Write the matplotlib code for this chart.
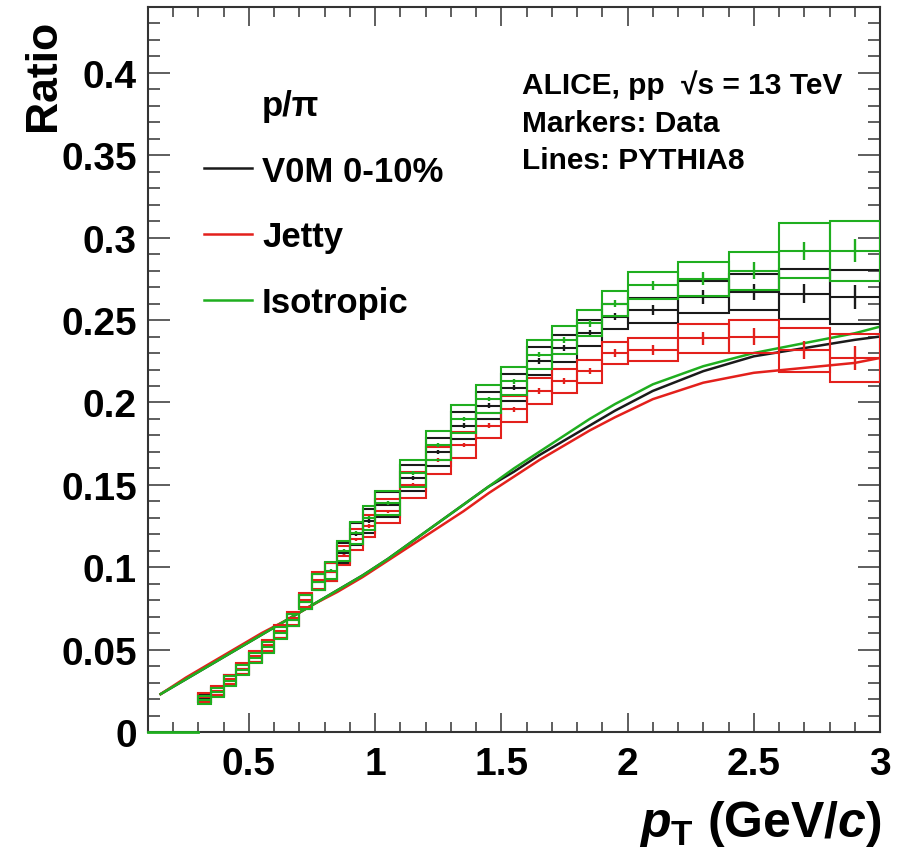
import numpy as np
import matplotlib
matplotlib.use('Agg')
import matplotlib.pyplot as plt
from matplotlib.lines import Line2D
from matplotlib.ticker import MultipleLocator, FuncFormatter

plt.rcParams['font.family'] = ['Liberation Sans', 'DejaVu Sans']
plt.rcParams['font.weight'] = 'bold'
plt.rcParams['mathtext.fontset'] = 'custom'
plt.rcParams['mathtext.rm'] = 'Liberation Sans:bold'
plt.rcParams['mathtext.it'] = 'Liberation Sans:italic:bold'
plt.rcParams['mathtext.bf'] = 'Liberation Sans:bold'

# bins of the measured p/pi ratio
bin_edges = [0.3, 0.35, 0.4, 0.45, 0.5, 0.55, 0.6, 0.65, 0.7, 0.75, 0.8, 0.85, 0.9, 0.95, 1.0,
             1.1, 1.2, 1.3, 1.4, 1.5, 1.6, 1.7, 1.8, 1.9, 2.0, 2.2, 2.4, 2.6, 2.8, 3.0]

# data (markers)
v0m_data = [0.0205, 0.0245, 0.0315, 0.038, 0.0455, 0.052, 0.0605, 0.068, 0.079, 0.091,
            0.097, 0.1085, 0.120, 0.128, 0.138, 0.154, 0.170, 0.186, 0.198, 0.209,
            0.225, 0.233, 0.242, 0.252, 0.256, 0.264, 0.267, 0.266, 0.264]
jetty_data = [0.021, 0.025, 0.032, 0.0385, 0.046, 0.0525, 0.061, 0.069, 0.080, 0.092,
              0.097, 0.107, 0.117, 0.125, 0.134, 0.150, 0.165, 0.174, 0.186, 0.196,
              0.207, 0.213, 0.219, 0.230, 0.232, 0.239, 0.240, 0.232, 0.227]
iso_data = [0.0195, 0.024, 0.031, 0.0375, 0.045, 0.0515, 0.060, 0.068, 0.079, 0.091,
            0.098, 0.110, 0.121, 0.130, 0.139, 0.157, 0.174, 0.190, 0.202, 0.213,
            0.229, 0.238, 0.248, 0.260, 0.271, 0.275, 0.280, 0.292, 0.292]
iso_empty_edges = [0.1, 0.3]  # empty bins drawn at zero

# relative systematic (boxes) and absolute statistical uncertainties
sys_frac = [0.12, 0.11, 0.09, 0.08, 0.07, 0.065, 0.06, 0.055, 0.055, 0.055,
            0.055, 0.055, 0.055, 0.055, 0.054, 0.052, 0.05, 0.045, 0.042, 0.04,
            0.038, 0.035, 0.032, 0.03, 0.03, 0.037, 0.041, 0.057, 0.063]
stat_abs = [0.0004, 0.0004, 0.0004, 0.0004, 0.0005, 0.0005, 0.0005, 0.0006, 0.0006, 0.0007,
            0.0008, 0.0008, 0.0009, 0.001, 0.001, 0.0011, 0.0012, 0.0013, 0.0014, 0.0015,
            0.0017, 0.0019, 0.002, 0.0022, 0.003, 0.004, 0.005, 0.0056, 0.007]

# PYTHIA8 (lines)
pythia_pt = [0.15, 0.25, 0.35, 0.45, 0.55, 0.65, 0.75, 0.85, 0.95, 1.05, 1.15, 1.25, 1.35,
             1.45, 1.55, 1.65, 1.75, 1.85, 1.95, 2.1, 2.3, 2.5, 2.7, 2.9, 3.0]
v0m_py = [0.023, 0.032, 0.041, 0.050, 0.059, 0.068, 0.077, 0.086, 0.095, 0.105, 0.116, 0.127,
          0.138, 0.149, 0.158, 0.168, 0.177, 0.186, 0.195, 0.207, 0.219, 0.228, 0.233, 0.238, 0.240]
jetty_py = [0.023, 0.033, 0.042, 0.051, 0.060, 0.068, 0.077, 0.085, 0.094, 0.104, 0.114, 0.124,
            0.134, 0.145, 0.155, 0.165, 0.174, 0.183, 0.191, 0.202, 0.212, 0.218, 0.221, 0.224, 0.227]
iso_py = [0.023, 0.032, 0.041, 0.050, 0.059, 0.068, 0.077, 0.086, 0.095, 0.105, 0.116, 0.127,
          0.138, 0.149, 0.160, 0.170, 0.180, 0.190, 0.199, 0.211, 0.222, 0.230, 0.236, 0.242, 0.246]

labels = ['V0M 0-10%', 'Jetty', 'Isotropic']
colors = ['#1a1a1a', '#e3201c', '#1fae1f']

edges = np.array(bin_edges)
lo, hi = edges[:-1], edges[1:]
centers = 0.5 * (lo + hi)
widths = hi - lo

fig = plt.figure(figsize=(9.08, 8.62), dpi=100)
ax = fig.add_axes([148 / 908, 1 - 733 / 862, (880 - 148) / 908, (733 - 8) / 862])

for py, col in zip([v0m_py, jetty_py, iso_py], colors):
    ax.plot(pythia_pt, py, color=col, lw=1.8, zorder=2)

for dat, col in zip([v0m_data, jetty_data, iso_data], colors):
    val = np.array(dat)
    sys = val * np.array(sys_frac)
    ax.bar(centers, 2 * sys, bottom=val - sys, width=widths, fill=False,
           edgecolor=col, linewidth=1.5, zorder=3)
    ax.hlines(val, lo, hi, color=col, lw=1.5, zorder=3)
    ax.vlines(centers, val - np.array(stat_abs), val + np.array(stat_abs), color=col, lw=1.7, zorder=3)

ax.plot(iso_empty_edges, [0, 0], color=colors[2], lw=2, zorder=4, clip_on=False)

ax.set_xlim(0.1, 3.0)
ax.set_ylim(0, 0.44)
ax.xaxis.set_major_locator(MultipleLocator(0.5))
ax.xaxis.set_minor_locator(MultipleLocator(0.1))
ax.yaxis.set_major_locator(MultipleLocator(0.05))
ax.yaxis.set_minor_locator(MultipleLocator(0.01))
ax.yaxis.set_major_formatter(FuncFormatter(lambda v, p: '%g' % round(v, 3)))
ax.xaxis.set_major_formatter(FuncFormatter(lambda v, p: '%g' % round(v, 3)))
ax.tick_params(which='both', direction='in', top=True, right=True, color='#333333', width=1.1,
               labelsize=28)
ax.tick_params(axis='x', which='major', length=14, pad=10)
ax.tick_params(axis='x', which='minor', length=7)
ax.tick_params(axis='y', which='major', length=16, pad=8)
ax.tick_params(axis='y', which='minor', length=8.5)
for s in ax.spines.values():
    s.set_linewidth(1.5)
    s.set_color('#333333')

handles = [Line2D([], [], color='none')] + [Line2D([], [], color=c, lw=1.8) for c in colors]
fig.legend(handles, ['p/π'] + labels, loc='upper left', bbox_to_anchor=(204 / 908, 1 - 90 / 862),
           frameon=False, fontsize=25, handlelength=1.38, handletextpad=0.29,
           labelspacing=0.94, borderpad=0, borderaxespad=0)

fig.text(522 / 908, 1 - 94 / 862, 'ALICE, pp  √s = 13 TeV', fontsize=21.5, va='baseline')
fig.text(522 / 908, 1 - 132 / 862, 'Markers: Data', fontsize=21.5, va='baseline')
fig.text(522 / 908, 1 - 169 / 862, 'Lines: PYTHIA8', fontsize=21.5, va='baseline')

fig.text(44 / 908, 1 - 20 / 862, 'Ratio', fontsize=32, rotation=90, ha='center', va='top')
fig.text(882 / 908, 1 - 837 / 862, r'$p_{\mathrm{T}}$ (GeV/$c$)', fontsize=36, ha='right',
         va='baseline')

fig.savefig('out.png', dpi=100)
